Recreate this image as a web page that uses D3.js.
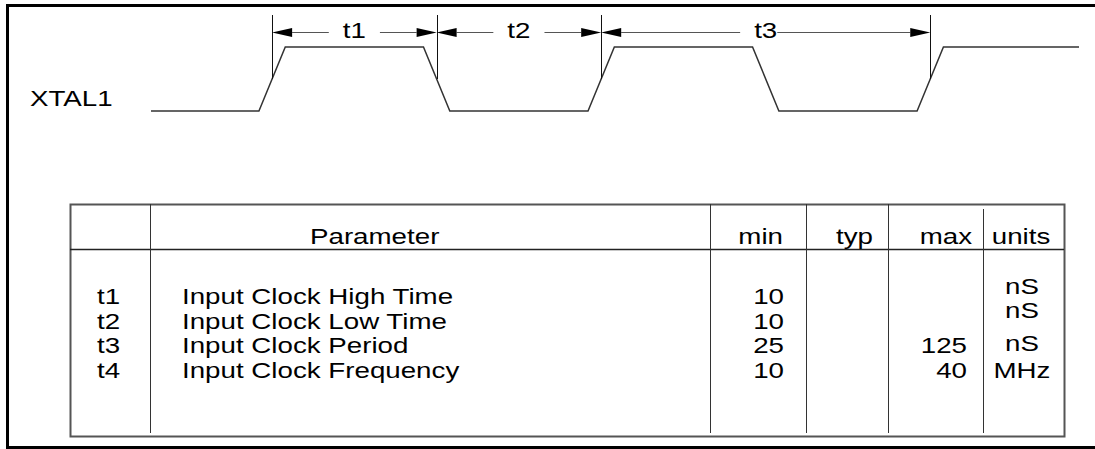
<!DOCTYPE html>
<html>
<head>
<meta charset="utf-8">
<script src="https://cdn.jsdelivr.net/npm/d3@7"></script>
<style>
  body { margin: 0; background: #fff; }
  svg { display: block; font-family: "Liberation Sans", Arial, sans-serif; }
</style>
</head>
<body>
<div class="chart-container"></div>
<script>
//! CONSTS
const WIDTH = 1095;
const HEIGHT = 449;
const FONT_SIZE = 22;
const STRETCH = 1.26;   // the source figure is a bit wider than tall

//! DATA - clock waveform (times in ns)
const SIGNAL_NAME = 'XTAL1';
const EDGE_TIMES = [8.2, 20.7, 33.2, 45.7, 58.2];   // start of each transition
const EDGE_LEVELS = [1, 0, 1, 0, 1];               // level after each transition
const EDGE_DURATION = 2;
const TRACE_END = 70.5;
const DIM_LABELS = ['t1', 't2', 't3'];
const DIM_FROM_EDGE = [0, 1, 2];
const DIM_TO_EDGE = [1, 2, 4];

//! DATA - parameter table
const HEADERS = ['Parameter', 'min', 'typ', 'max', 'units'];
const SYMBOLS = ['t1', 't2', 't3', 't4'];
const PARAMETERS = ['Input Clock High Time', 'Input Clock Low Time', 'Input Clock Period', 'Input Clock Frequency'];
const MIN_VALUES = [10, 10, 25, 10];
const TYP_VALUES = [null, null, null, null];
const MAX_VALUES = [null, null, 125, 40];
const UNITS = ['nS', 'nS', 'nS', 'MHz'];

//! SVG
const svg = d3.select('.chart-container')
  .append('svg')
  .attr('width', WIDTH)
  .attr('height', HEIGHT);

// text is drawn at the origin, then moved and stretched sideways
const place = (x, y) => `translate(${x},${y}) scale(${STRETCH},1)`;

// outer frame (open on the right)
svg.append('path')
  .attr('d', 'M1095,5.5H7.5V447.5H1095')
  .attr('fill', 'none')
  .attr('stroke', '#000')
  .attr('stroke-width', 3);

//! SCALES
const x = d3.scaleLinear().domain([0, TRACE_END]).range([151, 1079]);
const y = d3.scaleLinear().domain([0, 1]).range([111, 47]);

// build the trace from the edge list
const trace = [[0, 1 - EDGE_LEVELS[0]]];
EDGE_TIMES.forEach((t, i) => {
  trace.push([t, 1 - EDGE_LEVELS[i]]);
  trace.push([t + EDGE_DURATION, EDGE_LEVELS[i]]);
});
trace.push([TRACE_END, EDGE_LEVELS[EDGE_LEVELS.length - 1]]);

const line = d3.line().x(d => x(d[0])).y(d => y(d[1]));

svg.append('path')
  .datum(trace)
  .attr('d', line)
  .attr('fill', 'none')
  .attr('stroke', '#333')
  .attr('stroke-width', 1.5);

svg.append('text')
  .attr('transform', place(30, 106))
  .attr('font-size', FONT_SIZE)
  .text(SIGNAL_NAME);

// extension lines at the middle of the referenced edges
const mid = i => EDGE_TIMES[i] + EDGE_DURATION / 2;
const markerEdges = Array.from(new Set(DIM_FROM_EDGE.concat(DIM_TO_EDGE)));
const DIM_Y = 32;

svg.append('g')
  .selectAll('line')
  .data(markerEdges)
  .enter()
  .append('line')
  .attr('x1', d => Math.round(x(mid(d))) + 0.5)
  .attr('x2', d => Math.round(x(mid(d))) + 0.5)
  .attr('y1', 15)
  .attr('y2', y(0.5))
  .attr('stroke', '#111')
  .attr('stroke-width', 1);

// dimension arrows
const ARROW_LEN = 20, ARROW_HALF = 4.5;
const GAP_PAD = [[14, 14], [14, 14], [14, 0]];

DIM_LABELS.forEach((label, i) => {
  const x0 = x(mid(DIM_FROM_EDGE[i]));
  const x1 = x(mid(DIM_TO_EDGE[i]));
  const g = svg.append('g');
  const txt = g.append('text')
    .attr('transform', place((x0 + x1) / 2, DIM_Y + 6))
    .attr('text-anchor', 'middle')
    .attr('font-size', FONT_SIZE)
    .text(label);
  const w = txt.node().getComputedTextLength() * STRETCH;
  const gl = (x0 + x1) / 2 - w / 2 - GAP_PAD[i][0];
  const gr = (x0 + x1) / 2 + w / 2 + GAP_PAD[i][1];

  g.selectAll('line')
    .data([[x0 + ARROW_LEN, gl], [gr, x1 - ARROW_LEN]])
    .enter()
    .append('line')
    .attr('x1', d => d[0])
    .attr('x2', d => d[1])
    .attr('y1', DIM_Y + 0.5)
    .attr('y2', DIM_Y + 0.5)
    .attr('stroke', '#555')
    .attr('stroke-width', 1);

  g.selectAll('path')
    .data([[x0, 1], [x1, -1]])
    .enter()
    .append('path')
    .attr('d', d => `M${d[0]},${DIM_Y + 0.5}L${d[0] + d[1] * ARROW_LEN},${DIM_Y + 0.5 - ARROW_HALF}L${d[0] + d[1] * ARROW_LEN},${DIM_Y + 0.5 + ARROW_HALF}Z`)
    .attr('fill', '#000');
});

//! TABLE
const COLS = [70, 150, 710, 806, 888, 983, 1064];
const TABLE_TOP = 204, HEADER_BOTTOM = 249, TABLE_BOTTOM = 436;
const rowY = d3.scalePoint().domain(SYMBOLS).range([304, 378]);
const UNIT_SHIFT = [-10, -11, -2, 0];

const table = svg.append('g').attr('stroke', '#444').attr('stroke-width', 1.5);

table.append('rect')
  .attr('x', COLS[0] + 0.5)
  .attr('y', TABLE_TOP + 0.5)
  .attr('width', COLS[6] - COLS[0])
  .attr('height', TABLE_BOTTOM - TABLE_TOP)
  .attr('fill', 'none')
  .attr('stroke', '#555')
  .attr('stroke-width', 2);

table.append('line')
  .attr('x1', COLS[0]).attr('x2', COLS[6])
  .attr('y1', HEADER_BOTTOM + 0.5).attr('y2', HEADER_BOTTOM + 0.5)
  .attr('stroke', '#222');

table.selectAll('.divider')
  .data(COLS.slice(1, 6))
  .enter()
  .append('line')
  .attr('class', 'divider')
  .attr('x1', d => d + 0.5).attr('x2', d => d + 0.5)
  .attr('y1', (d, i) => i === 4 ? TABLE_TOP + 5 : TABLE_TOP)
  .attr('y2', TABLE_BOTTOM - 3)
  .attr('stroke', '#333')
  .attr('stroke-width', 1);

// header texts
const HEADER_X = [310, 783, 873, 972, 1021];
const HEADER_ANCHOR = ['start', 'end', 'end', 'end', 'middle'];
svg.append('g')
  .selectAll('text')
  .data(HEADERS)
  .enter()
  .append('text')
  .attr('transform', (d, i) => place(HEADER_X[i], 244))
  .attr('text-anchor', (d, i) => HEADER_ANCHOR[i])
  .attr('font-size', FONT_SIZE)
  .text(d => d);

// body
const body = svg.append('g').attr('font-size', FONT_SIZE);
const column = (values, xPos, anchor, shift) => body.append('g')
  .selectAll('text')
  .data(values).enter().append('text')
  .attr('transform', (d, i) => place(xPos, rowY(SYMBOLS[i]) + (shift ? shift[i] : 0)))
  .attr('text-anchor', anchor)
  .text(d => d == null ? '' : d);

column(SYMBOLS, 97, 'start');
column(PARAMETERS, 182, 'start');
column(MIN_VALUES, 784, 'end');
column(TYP_VALUES, 873, 'end');
column(MAX_VALUES, 967, 'end');
column(UNITS, 1022, 'middle', UNIT_SHIFT);
</script>
</body>
</html>
